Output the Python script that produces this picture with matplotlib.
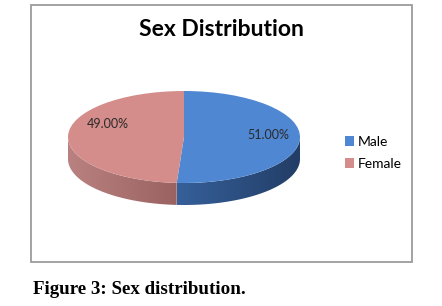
import numpy as np
import matplotlib
matplotlib.use('Agg')
import matplotlib.pyplot as plt
from matplotlib.patches import Rectangle, Polygon
from matplotlib.colors import LinearSegmentedColormap

# Data
labels = ['Male', 'Female']
shares = [51.0, 49.0]

top_colors = ['#4F87D2', '#D48D8B']
side_light = ['#36609A', '#B98280']
side_dark = ['#223D66', '#9A6361']

W, H = 442, 306
fig = plt.figure(figsize=(W / 100, H / 100), dpi=100)

# chart frame
fig.patches.append(Rectangle((31 / W, 1 - 262 / H), 381 / W, 257 / H, transform=fig.transFigure,
                             fill=False, edgecolor='#9C9C9C', linewidth=1.3))

# pie axes: centre at (184, 137) px, radius 116 px wide, 46 px tall
cx, cy, a, b = 184, 137, 116, 46
left, right, top, bottom = 50, 320, 80, 225
ax = fig.add_axes([left / W, 1 - bottom / H, (right - left) / W, (bottom - top) / H])

wedges, texts, autotexts = ax.pie(shares, colors=top_colors, startangle=90, counterclock=False,
                                  autopct=lambda p: '%.2f%%' % p, pctdistance=0.73,
                                  textprops=dict(family='Lato', fontsize=9, color='#2A2A2A'))
ax.set_aspect('auto')
xlim = ((left - cx) / a, (right - cx) / a)
ylim = ((cy - bottom) / b, (cy - top) / b)
for w in wedges:
    w.set_zorder(3)

# side of the pie (depth), gradient clipped to each visible side face
depth = 22 / b
fracs = np.array(shares) / sum(shares)
start = 90.0
for i, f in enumerate(fracs):
    t1 = start - f * 360
    t2 = start
    start = t1
    for lo, hi in [(t1, t2), (t1 + 360, t2 + 360), (t1 - 360, t2 - 360)]:
        s = max(lo, -180)
        e = min(hi, 0)
        if e <= s:
            continue
        th = np.radians(np.linspace(s, e, 100))
        xs, ys = np.cos(th), np.sin(th)
        pts = np.concatenate([np.column_stack([xs, ys]),
                              np.column_stack([xs[::-1], ys[::-1] - depth])])
        face = Polygon(pts, closed=True, facecolor='none', edgecolor='none')
        ax.add_patch(face)
        cmap = LinearSegmentedColormap.from_list('side%d' % i, [side_light[i], side_dark[i]])
        x0, x1 = xs.min(), xs.max()
        grad = np.linspace(0, 1, 256).reshape(1, -1)
        im = ax.imshow(grad, cmap=cmap, extent=(x0, x1, ys.min() - depth - 0.05, ys.max() + 0.05),
                       aspect='auto', zorder=2, interpolation='bilinear')
        im.set_clip_path(face)

ax.set_xlim(*xlim)
ax.set_ylim(*ylim)

# label positions as in the source chart
autotexts[0].set_position((0.73, 0.04))
autotexts[1].set_position((-0.66, 0.28))
for t in autotexts:
    t.set_zorder(5)

ax.legend(wedges, labels, loc='center left', bbox_to_anchor=(332 / W, 1 - 153 / H),
          bbox_transform=fig.transFigure, frameon=False, handlelength=0.7, handleheight=0.7,
          handletextpad=0.25, labelspacing=0.75, prop=dict(family='Lato', size=10))

fig.text(221 / W, 1 - 29 / H, 'Sex Distribution', ha='center', va='center',
         fontsize=16.5, fontweight='bold', family='Lato')

fig.text(33 / W, 1 - 289 / H, 'Figure 3: Sex distribution.', ha='left', va='center',
         fontsize=13.7, fontweight='bold', family='Liberation Serif')

fig.savefig('out.png', dpi=100)
